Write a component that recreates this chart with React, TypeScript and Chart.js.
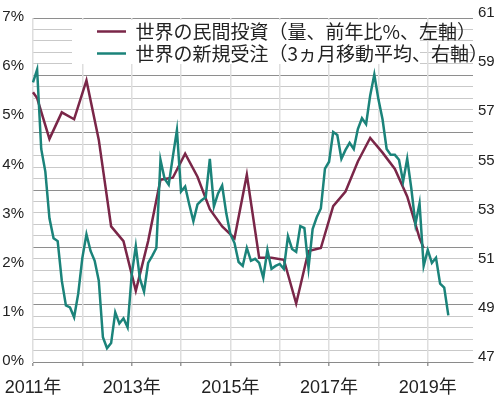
import React, { useEffect, useRef } from 'react';
import { Chart, registerables } from 'chart.js';

Chart.register(...registerables);

// ---- categories (monthly) ----
const years = [2011, 2012, 2013, 2014, 2015, 2016, 2017, 2018, 2019];
const monthLabels: string[] = [];
years.forEach((y) => {
  for (let m = 1; m <= 12; m++) monthLabels.push(`${y}-${String(m).padStart(2, '0')}`);
});

// ---- tick labels ----
const yearTickLabels = ['2011年', '2013年', '2015年', '2017年', '2019年'];
const leftTickValues = [0, 1, 2, 3, 4, 5, 6, 7];
const rightTickValues = [47, 49, 51, 53, 55, 57, 59, 61];
const gridSteps = Array.from({ length: 31 }, (_, k) => k);

// ---- series ----
const investName = '世界の民間投資（量、前年比%、左軸）';
const ordersName = '世界の新規受注（3ヵ月移動平均、右軸）';

const investDates = [
  '2011-01', '2011-02', '2011-05', '2011-08', '2011-11',
  '2012-02', '2012-05', '2012-08', '2012-11',
  '2013-02', '2013-05', '2013-08', '2013-11',
  '2014-02', '2014-05', '2014-08', '2014-11',
  '2015-02', '2015-05', '2015-08', '2015-11',
  '2016-02', '2016-05', '2016-08', '2016-11',
  '2017-02', '2017-05', '2017-08', '2017-11',
  '2018-02', '2018-05', '2018-08', '2018-11', '2018-12',
];
const investValues = [
  5.49, 5.37, 4.54, 5.08, 4.94,
  5.73, 4.52, 2.76, 2.46,
  1.45, 2.46, 3.71, 3.75,
  4.24, 3.77, 3.11, 2.76,
  2.52, 3.81, 2.12, 2.12,
  2.08, 1.19, 2.26, 2.32,
  3.17, 3.47, 4.08, 4.56,
  4.26, 3.93, 3.37, 2.52, 2.32,
];

// monthly from 2011-01
const ordersValues = [
  58.38, 58.9, 55.67, 54.75, 52.85, 52.04, 51.92, 50.31, 49.3, 49.22, 48.82, 49.78,
  51.24, 52.2, 51.52, 51.12, 50.31, 48.01, 47.56, 47.77, 49.02, 48.57, 48.78, 48.41,
  50.55, 51.72, 50.39, 49.86, 51.03, 51.32, 51.64, 55.23, 54.46, 54.22, 55.35, 56.44,
  53.94, 54.14, 53.41, 52.73, 53.41, 53.58, 53.7, 55.27, 53.33, 53.86, 54.18, 53.05,
  52.2, 51.84, 51.07, 50.91, 51.64, 51.12, 51.2, 51.03, 50.43, 51.56, 50.79, 50.91,
  50.99, 50.79, 52.12, 51.6, 51.48, 52.53, 52.45, 50.83, 52.41, 52.89, 53.25, 54.87,
  55.15, 56.36, 56.24, 55.27, 55.63, 55.92, 55.67, 56.48, 56.92, 56.68, 57.85, 58.7,
  57.69, 56.88, 55.67, 55.43, 55.43, 55.23, 54.34, 55.27, 54.06, 52.61, 53.46, 50.91,
  51.56, 51.03, 51.24, 50.19, 50.03, 48.9,
];

const INVEST_COLOR = '#7a2648';
const ORDERS_COLOR = '#1b837a';
const FONT_LATIN = "'Liberation Sans', Arial, 'Noto Sans CJK JP', sans-serif";
const FONT_JP = "'Noto Sans CJK JP', 'Noto Sans', sans-serif";

const legendPlacement = {
  id: 'legendPlacement',
  beforeLayout(chart: any) {
    if (chart.legend) chart.legend._layers = () => [];
  },
  afterLayout(chart: any) {
    const lg = chart.legend;
    const a = chart.chartArea;
    if (!lg || !a) return;
    lg.left = a.left + 61;
    lg.right = chart.width;
    lg.top = a.top + 1;
    lg.bottom = a.bottom;
  },
  beforeDatasetsDraw(chart: any) {
    const a = chart.chartArea;
    const ctx = chart.ctx;
    ctx.save();
    ctx.fillStyle = '#ffffff';
    ctx.fillRect(a.left + 39, a.top + 2, 348, 44);
    ctx.restore();
    if (chart.legend) chart.legend.draw();
  },
};

export default function App() {
  const ref = useRef<HTMLCanvasElement>(null);

  useEffect(() => {
    if (!ref.current) return;
    const chart = new Chart(ref.current, {
      type: 'line',
      data: {
        labels: monthLabels,
        datasets: [
          {
            label: ordersName,
            data: ordersValues,
            yAxisID: 'y1',
            borderColor: ORDERS_COLOR,
            backgroundColor: ORDERS_COLOR,
            borderWidth: 2.5,
            pointRadius: 0,
            tension: 0,
          },
          {
            label: investName,
            data: investDates.map((d, i) => ({ x: d, y: investValues[i] })) as any,
            yAxisID: 'y',
            borderColor: INVEST_COLOR,
            backgroundColor: INVEST_COLOR,
            borderWidth: 2.5,
            pointRadius: 0,
            tension: 0,
          },
        ],
      },
      options: {
        responsive: false,
        animation: false,
        devicePixelRatio: 1,
        events: [],
        layout: { padding: { top: 15, left: 0, right: 0, bottom: 0 } },
        plugins: {
          tooltip: { enabled: false },
          legend: {
            position: 'chartArea' as any,
            align: 'start',
            labels: {
              usePointStyle: true,
              pointStyle: 'line',
              pointStyleWidth: 29,
              boxHeight: 19,
              padding: 3,
              color: '#222',
              font: { family: FONT_JP, size: 19 },
              sort: (a: any, b: any) => b.datasetIndex - a.datasetIndex,
            },
          },
        },
        scales: {
          g: {
            type: 'linear',
            position: 'left',
            min: 0,
            max: 30,
            afterBuildTicks: (s: any) => {
              s.ticks = gridSteps.map((v) => ({ value: v }));
            },
            afterFit: (s: any) => {
              s.width = 0;
            },
            ticks: { display: false },
            grid: {
              drawTicks: false,
              lineWidth: 1,
              color: (c: any) => (c.tick && c.tick.value % 5 === 0 ? '#8e8e8e' : '#c9c9c9'),
            },
            border: { display: false },
          },
          y: {
            type: 'linear',
            position: 'left',
            min: 0,
            max: 7,
            afterBuildTicks: (s: any) => {
              s.ticks = leftTickValues.map((v) => ({ value: v }));
            },
            afterFit: (s: any) => {
              s.width = 33;
            },
            ticks: {
              padding: 9,
              labelOffset: -1,
              color: '#222',
              font: { family: FONT_LATIN, size: 15 },
              callback: (v: any) => `${v}%`,
            },
            grid: { display: false, drawTicks: false },
            border: { display: false },
          },
          y1: {
            type: 'linear',
            position: 'right',
            min: 47,
            max: 61,
            afterBuildTicks: (s: any) => {
              s.ticks = rightTickValues.map((v) => ({ value: v }));
            },
            afterFit: (s: any) => {
              s.width = 28;
            },
            ticks: {
              padding: 5,
              labelOffset: -5,
              color: '#222',
              font: { family: FONT_LATIN, size: 15 },
            },
            grid: { display: false, drawTicks: false },
            border: { display: false },
          },
          x: {
            type: 'category',
            offset: false,
            afterFit: (s: any) => {
              s.height = 35;
              s.paddingLeft = 0;
              s.paddingRight = 0;
            },
            ticks: {
              autoSkip: false,
              maxRotation: 0,
              minRotation: 0,
              padding: 11,
              color: '#222',
              font: { family: FONT_LATIN, size: 18 },
              callback: (_v: any, index: number) => {
                const lab = monthLabels[index] || '';
                const [yy, mm] = lab.split('-');
                const t = `${yy}年`;
                return mm === '01' && yearTickLabels.includes(t) ? t : '';
              },
            },
            grid: {
              lineWidth: 1.5,
              tickLength: 4,
              color: (c: any) =>
                monthLabels[c.index] && monthLabels[c.index].endsWith('-01') ? '#dedede' : 'rgba(0,0,0,0)',
              tickColor: (c: any) =>
                monthLabels[c.index] && monthLabels[c.index].endsWith('-01') ? '#9a9a9a' : 'rgba(0,0,0,0)',
            },
            border: { display: true, color: '#8a8a8a', width: 1 },
          },
        },
      } as any,
      plugins: [legendPlacement],
    });
    return () => chart.destroy();
  }, []);

  return (
    <div style={{ position: 'absolute', left: 0, top: 0, width: 501, height: 397, background: '#fff' }}>
      <canvas ref={ref} width={501} height={397} style={{ display: 'block' }} />
    </div>
  );
}
